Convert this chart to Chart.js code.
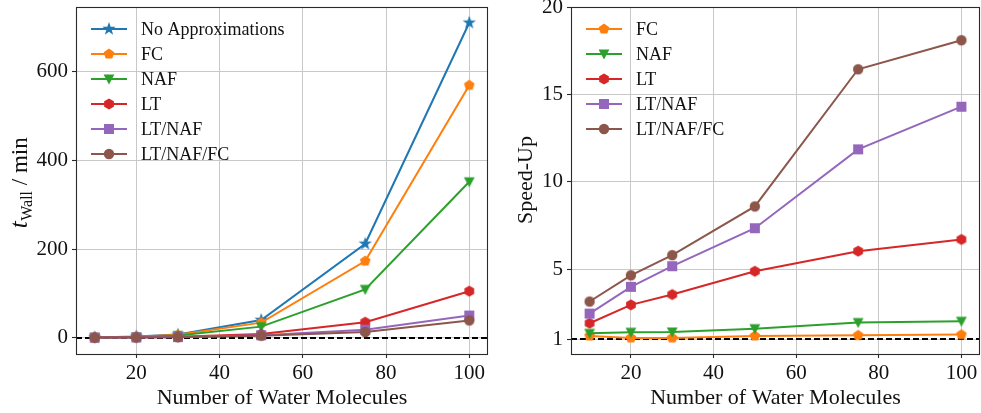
<!DOCTYPE html>
<html><head><meta charset="utf-8">
<script src="https://cdn.jsdelivr.net/npm/chart.js@4.4.1/dist/chart.umd.min.js"></script>
<style>
html,body{margin:0;padding:0;background:#fff;}
#wrap{position:relative;width:981px;height:413px;overflow:hidden;}
#c1{position:absolute;left:0;top:0;}
#c2{position:absolute;left:490px;top:0;}
</style></head><body>
<div id="wrap"><canvas id="c1" width="490" height="413"></canvas><canvas id="c2" width="491" height="413"></canvas></div>
<script>
// ---------- data ----------
const waterMolecules = [10, 20, 30, 50, 75, 100];
const xTicks = [20, 40, 60, 80, 100];
const wallTicks = [0, 200, 400, 600];
const speedTicks = [1, 5, 10, 15, 20];

const wallLabels = ['No Approximations', 'FC', 'NAF', 'LT', 'LT/NAF', 'LT/NAF/FC'];
const wallNoApprox = [0.6, 2.5, 7, 40, 212, 711];
const wallFC       = [0.5, 2.3, 6.5, 34, 173, 570];
const wallNAF      = [0.45, 1.8, 4.9, 25, 109, 352];
const wallLT       = [0.31, 0.84, 2.0, 8.2, 35, 105];
const wallLTNAF    = [0.24, 0.62, 1.35, 5.4, 18, 50];
const wallLTNAFFC  = [0.19, 0.54, 1.2, 4.6, 13, 39];

const speedLabels = ['FC', 'NAF', 'LT', 'LT/NAF', 'LT/NAF/FC'];
const speedFC      = [1.19, 1.08, 1.08, 1.19, 1.23, 1.27];
const speedNAF     = [1.34, 1.40, 1.42, 1.61, 1.96, 2.03];
const speedLT      = [1.92, 2.97, 3.56, 4.89, 6.04, 6.71];
const speedLTNAF   = [2.47, 4.00, 5.18, 7.35, 11.86, 14.30];
const speedLTNAFFC = [3.16, 4.66, 5.81, 8.60, 16.44, 18.10];

// ---------- styles ----------
const FONT = "'Liberation Serif', 'DejaVu Serif', serif";
const C = {blue:'#1f77b4', orange:'#ff7f0e', green:'#2ca02c', red:'#d62728', purple:'#9467bd', brown:'#8c564b'};
const LW = 2;

function marker(shape, color){
  const s = 18, c = document.createElement('canvas');
  c.width = s; c.height = s;
  const g = c.getContext('2d'), cx = s/2, cy = s/2;
  g.fillStyle = color; g.beginPath();
  if (shape === 'star'){
    const R = 7, r = 2.8;
    for (let i=0;i<10;i++){
      const a = -Math.PI/2 + i*Math.PI/5, rr = i%2 ? r : R;
      const px = cx + rr*Math.cos(a), py = cy + rr*Math.sin(a);
      i ? g.lineTo(px,py) : g.moveTo(px,py);
    }
  } else if (shape === 'pentagon' || shape === 'hexagon'){
    const n = shape === 'pentagon' ? 5 : 6, R = 5.6;
    for (let i=0;i<n;i++){
      const a = -Math.PI/2 + i*2*Math.PI/n;
      const px = cx + R*Math.cos(a), py = cy + R*Math.sin(a);
      i ? g.lineTo(px,py) : g.moveTo(px,py);
    }
  } else if (shape === 'tridown'){
    g.moveTo(cx-5.4, cy-4.6); g.lineTo(cx+5.4, cy-4.6); g.lineTo(cx, cy+5.4);
  } else if (shape === 'square'){
    g.rect(cx-5, cy-5, 10, 10);
  } else {
    g.arc(cx, cy, 5.2, 0, Math.PI*2);
  }
  g.closePath(); g.fill();
  return c;
}

const M = {
  blue: marker('star', C.blue), orange: marker('pentagon', C.orange),
  green: marker('tridown', C.green), red: marker('hexagon', C.red),
  purple: marker('square', C.purple), brown: marker('circle', C.brown)
};

function ds(label, values, col, idx, n){
  return {
    label, data: waterMolecules.map((x,i)=>({x, y: values[i]})),
    borderColor: C[col], backgroundColor: C[col], borderWidth: LW,
    pointStyle: M[col], pointRadius: 5, tension: 0, fill: false,
    order: n - idx
  };
}

const decor = {
  id: 'decor',
  beforeDatasetsDraw(chart, args, o){
    const {ctx, chartArea: a} = chart, y = chart.scales.y;
    const py = Math.round(y.getPixelForValue(o.ref));
    ctx.save(); ctx.setLineDash([6, 3]); ctx.strokeStyle = '#000'; ctx.lineWidth = 1.8;
    ctx.beginPath(); ctx.moveTo(a.left, py); ctx.lineTo(a.right, py); ctx.stroke(); ctx.restore();
  },
  afterDraw(chart, args, o){
    const {ctx, chartArea: a} = chart;
    ctx.save();
    // frame
    ctx.strokeStyle = '#2a2a2a'; ctx.lineWidth = 1.1;
    ctx.strokeRect(Math.round(a.left)+0.5, Math.round(a.top)+0.5, Math.round(a.right-a.left)-1, Math.round(a.bottom-a.top));
    // legend
    const dsets = chart.data.datasets;
    ctx.font = '18px ' + FONT; ctx.textBaseline = 'middle'; ctx.textAlign = 'left'; ctx.fillStyle = '#111';
    dsets.forEach((d, i) => {
      const yy = o.legY + i*o.legDy;
      ctx.strokeStyle = d.borderColor; ctx.lineWidth = LW;
      ctx.beginPath(); ctx.moveTo(o.legX, yy); ctx.lineTo(o.legX + 36, yy); ctx.stroke();
      const im = d.pointStyle; ctx.drawImage(im, o.legX + 18 - im.width/2, yy - im.height/2);
      ctx.fillText(d.label, o.legX + 50, yy + 1);
    });
    // x title
    ctx.font = '22px ' + FONT; ctx.textAlign = 'center'; ctx.textBaseline = 'alphabetic';
    ctx.fillText('Number of Water Molecules', (a.left + a.right)/2, 404);
    // y title
    ctx.translate(o.yTitleX, o.yTitleY); ctx.rotate(-Math.PI/2);
    if (o.yTitle === 'wall'){
      const f1 = 'italic 25px ' + FONT, f2 = '16px ' + FONT, f3 = '23px ' + FONT;
      ctx.font = f1; const w1 = ctx.measureText('t').width;
      ctx.font = f2; const w2 = ctx.measureText('Wall').width;
      ctx.font = f3; const w3 = ctx.measureText(' / min').width;
      let x0 = -(w1 + w2 + w3)/2;
      ctx.textAlign = 'left';
      ctx.font = f1; ctx.fillText('t', x0, 0); x0 += w1 + 0.5;
      ctx.font = f2; ctx.fillText('Wall', x0, 5); x0 += w2;
      ctx.font = f3; ctx.fillText(' / min', x0, 0);
    } else {
      ctx.fillText(o.yTitle, 0, 0);
    }
    ctx.restore();
  }
};

function makeOptions(yMin, yMax, yTickArr, yWidth, padRight, decorOpts){
  return {
    responsive: false, animation: false, devicePixelRatio: 1,
    layout: {autoPadding: false, padding: {top: 7, right: padRight, left: 0, bottom: 0}},
    plugins: {legend: {display: false}, tooltip: {enabled: false}, decor: decorOpts},
    scales: {
      x: {
        type: 'linear', min: 5.5, max: 104.5,
        afterBuildTicks: s => { s.ticks = xTicks.map(v => ({value: v})); },
        afterFit: s => { s.height = 59; s.paddingLeft = 0; s.paddingRight = 0; },
        grid: {color: '#c8c8c8', lineWidth: 1, tickColor: '#2a2a2a', tickLength: 4, tickWidth: 1.1},
        border: {display: false},
        ticks: {color: '#111', font: {family: FONT, size: 21}, padding: 3, maxRotation: 0, autoSkip: false}
      },
      y: {
        type: 'linear', min: yMin, max: yMax,
        afterBuildTicks: s => { s.ticks = yTickArr.map(v => ({value: v})); },
        afterFit: s => { s.width = yWidth; s.paddingTop = 0; s.paddingBottom = 0; },
        grid: {color: '#c8c8c8', lineWidth: 1, tickColor: '#2a2a2a', tickLength: 4, tickWidth: 1.1},
        border: {display: false},
        ticks: {color: '#111', font: {family: FONT, size: 21}, padding: 4, autoSkip: false}
      }
    }
  };
}

const wallSeries = [wallNoApprox, wallFC, wallNAF, wallLT, wallLTNAF, wallLTNAFFC];
const wallCols = ['blue', 'orange', 'green', 'red', 'purple', 'brown'];
new Chart(document.getElementById('c1'), {
  type: 'line',
  data: {datasets: wallSeries.map((v, i) => ds(wallLabels[i], v, wallCols[i], i, wallSeries.length))},
  options: makeOptions(-36.8, 746.5, wallTicks, 76, 2,
    {ref: 0, legX: 91, legY: 29, legDy: 25, yTitle: 'wall', yTitleX: 27, yTitleY: 183}),
  plugins: [decor]
});

const speedSeries = [speedFC, speedNAF, speedLT, speedLTNAF, speedLTNAFFC];
const speedCols = ['orange', 'green', 'red', 'purple', 'brown'];
new Chart(document.getElementById('c2'), {
  type: 'line',
  data: {datasets: speedSeries.map((v, i) => ds(speedLabels[i], v, speedCols[i], i, speedSeries.length))},
  options: makeOptions(0.16, 20, speedTicks, 81, 1,
    {ref: 1, legX: 96, legY: 29, legDy: 25, yTitle: 'Speed-Up', yTitleX: 42, yTitleY: 180}),
  plugins: [decor]
});
</script>
</body></html>
